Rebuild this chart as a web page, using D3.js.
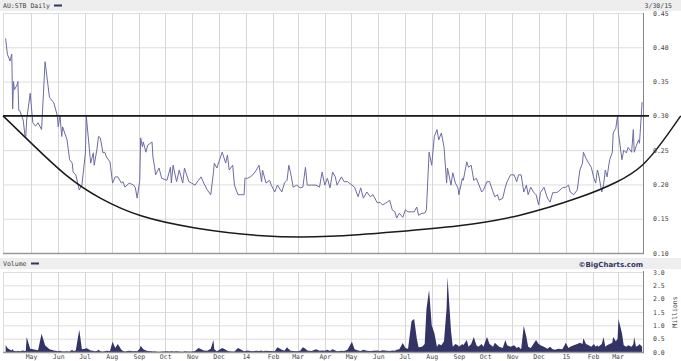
<!DOCTYPE html>
<html>
<head>
<meta charset="utf-8">
<title>AU:STB Daily</title>
<style>
  body { margin: 0; background: #fff; }
  svg text { font-family: "DejaVu Sans Mono", monospace; font-size: 6.5px; fill: #444; }
</style>
</head>
<body>
<script src="https://cdn.jsdelivr.net/npm/d3@7"></script>
<script>
// daily closes, AU:STB, 3/30/13 - 3/30/15
var dates = [
  "2013-04-02","2013-04-04","2013-04-07","2013-04-09","2013-04-10","2013-04-11","2013-04-12","2013-04-15","2013-04-16","2013-04-17","2013-04-18","2013-04-22","2013-04-24","2013-04-25","2013-04-26","2013-04-30",
  "2013-05-03","2013-05-06","2013-05-09","2013-05-13","2013-05-17","2013-05-22","2013-05-27","2013-05-31",
  "2013-06-01","2013-06-03","2013-06-05","2013-06-06","2013-06-11","2013-06-14","2013-06-17","2013-06-18","2013-06-21","2013-06-25","2013-06-28",
  "2013-07-02","2013-07-03","2013-07-08","2013-07-11","2013-07-12","2013-07-15","2013-07-17","2013-07-19","2013-07-22","2013-07-24","2013-07-26","2013-07-30",
  "2013-08-02","2013-08-05","2013-08-08","2013-08-12","2013-08-14","2013-08-16","2013-08-21","2013-08-26","2013-08-28","2013-08-30",
  "2013-09-02","2013-09-03","2013-09-05","2013-09-06","2013-09-09","2013-09-11","2013-09-16","2013-09-17","2013-09-19","2013-09-20","2013-09-24","2013-09-27",
  "2013-10-03","2013-10-07","2013-10-08","2013-10-10","2013-10-14","2013-10-17","2013-10-21","2013-10-23","2013-10-28","2013-10-31",
  "2013-11-04","2013-11-08","2013-11-11","2013-11-14","2013-11-18","2013-11-22","2013-11-25","2013-11-26","2013-11-29",
  "2013-12-05","2013-12-09","2013-12-11","2013-12-13","2013-12-17","2013-12-19","2013-12-23","2013-12-30","2013-12-31",
  "2014-01-03","2014-01-06","2014-01-09","2014-01-13","2014-01-16","2014-01-19","2014-01-20","2014-01-24","2014-01-28","2014-01-30",
  "2014-02-03","2014-02-06","2014-02-11","2014-02-14","2014-02-17","2014-02-19","2014-02-21","2014-02-24","2014-02-28",
  "2014-03-04","2014-03-07","2014-03-10","2014-03-12","2014-03-17","2014-03-22","2014-03-26","2014-03-29",
  "2014-04-01","2014-04-04","2014-04-07","2014-04-10","2014-04-13","2014-04-15","2014-04-20","2014-04-23","2014-04-27",
  "2014-05-02","2014-05-05","2014-05-09","2014-05-12","2014-05-15","2014-05-19","2014-05-23","2014-05-26","2014-05-31",
  "2014-06-03","2014-06-06","2014-06-11","2014-06-14","2014-06-17","2014-06-20","2014-06-22","2014-06-25","2014-06-29",
  "2014-07-02","2014-07-05","2014-07-09","2014-07-12","2014-07-15","2014-07-17","2014-07-21","2014-07-24","2014-07-26","2014-07-29",
  "2014-08-01","2014-08-04","2014-08-07","2014-08-09","2014-08-12","2014-08-15","2014-08-18","2014-08-19","2014-08-23","2014-08-25","2014-08-28","2014-08-31",
  "2014-09-01","2014-09-05","2014-09-06","2014-09-10","2014-09-12","2014-09-15","2014-09-18","2014-09-21","2014-09-23","2014-09-27","2014-09-29",
  "2014-10-03","2014-10-06","2014-10-10","2014-10-12","2014-10-15","2014-10-17","2014-10-21","2014-10-24","2014-10-26","2014-10-30",
  "2014-11-03","2014-11-06","2014-11-08","2014-11-11","2014-11-14","2014-11-17","2014-11-19","2014-11-22","2014-11-25","2014-11-28",
  "2014-12-01","2014-12-03","2014-12-07","2014-12-11","2014-12-14","2014-12-17","2014-12-20","2014-12-23","2014-12-28",
  "2015-01-01","2015-01-04","2015-01-06","2015-01-10","2015-01-14","2015-01-17","2015-01-20","2015-01-21","2015-01-24","2015-01-27","2015-01-30",
  "2015-02-02","2015-02-04","2015-02-06","2015-02-07","2015-02-11","2015-02-13","2015-02-15","2015-02-17","2015-02-20","2015-02-23","2015-02-24","2015-02-27",
  "2015-03-01","2015-03-02","2015-03-06","2015-03-08","2015-03-11","2015-03-13","2015-03-17","2015-03-19","2015-03-20","2015-03-22","2015-03-25","2015-03-26","2015-03-29"
];
var price = [
  .413,.39,.38,.39,.31,.35,.338,.345,.35,.308,.308,.294,.272,.27,.294,.333,
  .29,.285,.29,.28,.379,.327,.319,.30,
  .284,.30,.27,.284,.265,.236,.231,.218,.214,.192,.199,
  .246,.30,.231,.246,.228,.25,.27,.268,.246,.247,.24,.233,
  .202,.211,.211,.202,.204,.196,.202,.199,.195,.18,
  .206,.268,.255,.262,.247,.257,.262,.24,.225,.214,.224,.209,
  .206,.225,.202,.228,.204,.221,.202,.224,.204,.202,
  .199,.206,.211,.202,.192,.185,.217,.231,.224,
  .247,.231,.243,.221,.228,.199,.185,.185,.209,
  .209,.211,.214,.221,.228,.204,.221,.202,.206,.199,
  .189,.199,.189,.202,.206,.228,.217,.196,.199,
  .195,.196,.225,.199,.199,.199,.196,.218,
  .199,.209,.195,.218,.211,.199,.211,.204,.204,
  .199,.196,.182,.195,.18,.189,.182,.185,.173,
  .174,.17,.174,.177,.163,.16,.151,.158,.152,
  .163,.16,.16,.16,.167,.155,.158,.158,.163,.247,
  .228,.27,.28,.265,.275,.255,.202,.224,.199,.217,.202,.195,
  .185,.209,.206,.233,.225,.228,.206,.209,.202,.189,.192,
  .204,.204,.189,.182,.185,.177,.18,.196,.204,.214,
  .214,.204,.214,.214,.189,.199,.185,.196,.189,.185,
  .17,.188,.196,.18,.174,.188,.188,.189,.195,
  .196,.199,.189,.185,.192,.221,.231,.247,.238,.231,.225,
  .209,.202,.221,.217,.189,.199,.221,.211,.236,.247,.275,.282,
  .30,.275,.236,.25,.246,.254,.247,.28,.247,.255,.265,.26,.32
];
// volume, millions of shares
var volume = [
  .26,.15,.08,.06,.12,.05,.04,.03,.05,.04,.03,.06,.04,.05,.56,.12,
  .1,.08,.07,.68,.25,.1,.06,.04,
  .03,.05,.03,.02,.03,.02,.08,.04,.06,.83,.1,
  .12,.15,.06,.05,.03,.04,.08,.03,.02,.03,.05,.04,
  .38,.15,.30,.08,.04,.02,.05,.03,.04,.03,
  .12,.23,.15,.1,.06,.04,.03,.02,.03,.02,.01,.02,
  .03,.02,.04,.02,.03,.02,.01,.03,.02,.02,
  .04,.15,.1,.06,.05,.12,.45,.1,.03,
  .15,.08,.05,.03,.02,.02,.15,.03,.04,
  .06,.04,.03,.05,.04,.06,.03,.05,.04,.04,
  .03,.18,.08,.05,.18,.1,.05,.04,.03,
  .05,.18,.12,.06,.04,.1,.05,.06,
  .05,.08,.04,.1,.06,.03,.05,.04,.08,
  .38,.1,.06,.04,.08,.05,.04,.05,.06,
  .04,.07,.05,.04,.06,.05,.08,.1,.34,
  .15,.12,1.16,1.24,.5,.18,.2,.3,1.6,2.33,
  1.0,.71,.2,.3,.25,.4,1.65,2.81,.8,.2,.3,.25,
  .2,.3,.25,.45,.2,.3,.56,.25,.2,.3,.2,
  .56,.3,.2,.35,.25,.2,.15,.45,.25,.2,
  .25,.15,.2,.1,.98,.56,.2,.15,.3,.45,
  .3,.25,.2,.12,.2,.1,.08,.12,.1,
  .35,.15,.2,.25,.3,.35,.3,.52,.3,.25,.2,
  .3,.2,.25,.2,.3,.56,.2,.25,.3,.35,.56,.4,
  .5,1.24,.7,.25,.2,.25,.2,.3,.56,.2,.25,.3,.2
];
var priceTicks = [0.10, 0.15, 0.20, 0.25, 0.30, 0.35, 0.40, 0.45];
var volTicks = [0, 0.5, 1.0, 1.5, 2.0, 2.5, 3.0];

// hand drawn annotation: resistance line and cup
var resistance = 0.30;
var cupDates = ["2013-03-30","2013-05-03","2013-06-11","2013-07-18","2013-09-02","2013-11-01","2014-01-20","2014-04-07","2014-06-22","2014-09-02","2014-11-07","2015-01-21","2015-03-01","2015-03-30","2015-04-23","2015-05-12"];
var cupValues = [0.300,0.258,0.210,0.179,0.152,0.136,0.123,0.123,0.131,0.139,0.152,0.182,0.203,0.225,0.265,0.300];

var width = 681, height = 361;
var parse = d3.timeParse("%Y-%m-%d");

var data = dates.map(function (d, i) {
    return { date: parse(d), price: price[i], vol: volume[i] };
});
var cup = cupDates.map(function (d, i) {
    return { date: parse(d), value: cupValues[i] };
});

var svg = d3.select("body")
    .append("svg")
    .attr("width", width)
    .attr("height", height);

var x = d3.scaleTime()
    .domain([parse("2013-03-30"), parse("2015-03-30")])
    .range([3, 643]);
var yPrice = d3.scaleLinear().domain([0.10, 0.45]).range([253, 13]);
var yVol = d3.scaleLinear().domain([0, 3]).range([352, 272]);

var months = d3.timeMonth.range(parse("2013-05-01"), parse("2015-03-31"));

// header bands
svg.append("rect").attr("x", 0).attr("y", 0).attr("width", width).attr("height", 11).attr("fill", "#eeeeee");
svg.append("rect").attr("x", 0).attr("y", 258).attr("width", width).attr("height", 11).attr("fill", "#eeeeee");

svg.append("text").attr("x", 3).attr("y", 8).text("AU:STB Daily");
svg.append("rect").attr("x", 54).attr("y", 4.5).attr("width", 8).attr("height", 2).attr("fill", "#333366");
svg.append("text").attr("x", 672).attr("y", 8).attr("text-anchor", "end").text("3/30/15");

svg.append("text").attr("x", 3).attr("y", 266).text("Volume");
svg.append("rect").attr("x", 31).attr("y", 262.5).attr("width", 8).attr("height", 2).attr("fill", "#333366");
svg.append("text")
    .attr("x", 643).attr("y", 266.5)
    .attr("text-anchor", "end")
    .style("font-family", "'DejaVu Sans', sans-serif")
    .style("font-weight", "bold")
    .style("font-size", "7px")
    .style("fill", "#333366")
    .text("\u00A9BigCharts.com");

// grids
function grid(g, yScale, ticks) {
    g.selectAll(".h").data(ticks).enter().append("line")
        .attr("x1", x.range()[0]).attr("x2", x.range()[1])
        .attr("y1", function (d) { return yScale(d) + 0.5; })
        .attr("y2", function (d) { return yScale(d) + 0.5; })
        .attr("stroke", "#dddddd");
    g.selectAll(".v").data(months).enter().append("line")
        .attr("x1", function (d) { return Math.round(x(d)) + 0.5; })
        .attr("x2", function (d) { return Math.round(x(d)) + 0.5; })
        .attr("y1", yScale.range()[1]).attr("y2", yScale.range()[0])
        .attr("stroke", "#d6d6d6");
    g.append("line")
        .attr("x1", x.range()[0] + 0.5).attr("x2", x.range()[0] + 0.5)
        .attr("y1", yScale.range()[1]).attr("y2", yScale.range()[0])
        .attr("stroke", "#dddddd");
}
grid(svg.append("g"), yPrice, priceTicks);
grid(svg.append("g"), yVol, volTicks);

// price line
var line = d3.line()
    .x(function (d) { return x(d.date); })
    .y(function (d) { return yPrice(d.price); });
svg.append("path")
    .datum(data)
    .attr("fill", "none")
    .attr("stroke", "#6c6ca2")
    .attr("stroke-width", 1)
    .attr("d", line);

// volume
var area = d3.area()
    .x(function (d) { return x(d.date); })
    .y0(yVol(0))
    .y1(function (d) { return yVol(d.vol); });
svg.append("path")
    .datum(data)
    .attr("fill", "#333366")
    .attr("d", area);

// frame lines
svg.append("line").attr("x1", 3).attr("x2", 644).attr("y1", 253.5).attr("y2", 253.5).attr("stroke", "#999").attr("stroke-width", 1.5);
svg.append("line").attr("x1", 643.5).attr("x2", 643.5).attr("y1", 13).attr("y2", 254).attr("stroke", "#888");
svg.append("line").attr("x1", 3).attr("x2", 644).attr("y1", 352.5).attr("y2", 352.5).attr("stroke", "#999").attr("stroke-width", 1.5);
svg.append("line").attr("x1", 643.5).attr("x2", 643.5).attr("y1", 271).attr("y2", 353).attr("stroke", "#888");

// annotations
svg.append("line")
    .attr("x1", x.range()[0]).attr("x2", x.range()[1] + 6)
    .attr("y1", yPrice(resistance)).attr("y2", yPrice(resistance))
    .attr("stroke", "#1a1a1a")
    .attr("stroke-width", 1.8);
var cupLine = d3.line()
    .curve(d3.curveBasis)
    .x(function (d) { return x(d.date); })
    .y(function (d) { return yPrice(d.value); });
svg.append("path")
    .datum(cup)
    .attr("fill", "none")
    .attr("stroke", "#1a1a1a")
    .attr("stroke-width", 1.5)
    .attr("d", cupLine);

// axes
var pAxis = svg.append("g")
    .attr("transform", "translate(643,0)")
    .call(d3.axisRight(yPrice).tickValues(priceTicks).tickFormat(d3.format(".2f")).tickSize(0).tickPadding(10));
var vAxis = svg.append("g")
    .attr("transform", "translate(643,0)")
    .call(d3.axisRight(yVol).tickValues(volTicks).tickFormat(d3.format(".1f")).tickSize(0).tickPadding(10));
var xAxis = svg.append("g")
    .attr("transform", "translate(0,352)")
    .call(d3.axisBottom(x).tickValues(months)
        .tickFormat(function (d) { return d.getMonth() === 0 ? d3.timeFormat("%y")(d) : d3.timeFormat("%b")(d); })
        .tickSize(0).tickPadding(2));
[pAxis, vAxis, xAxis].forEach(function (a) {
    a.select(".domain").remove();
    a.selectAll("text").attr("font-family", null).attr("font-size", null).attr("fill", null);
    a.attr("font-family", null).attr("font-size", null);
});

svg.append("text")
    .attr("transform", "translate(677,312) rotate(-90)")
    .attr("text-anchor", "middle")
    .text("Millions");
</script>
</body>
</html>
